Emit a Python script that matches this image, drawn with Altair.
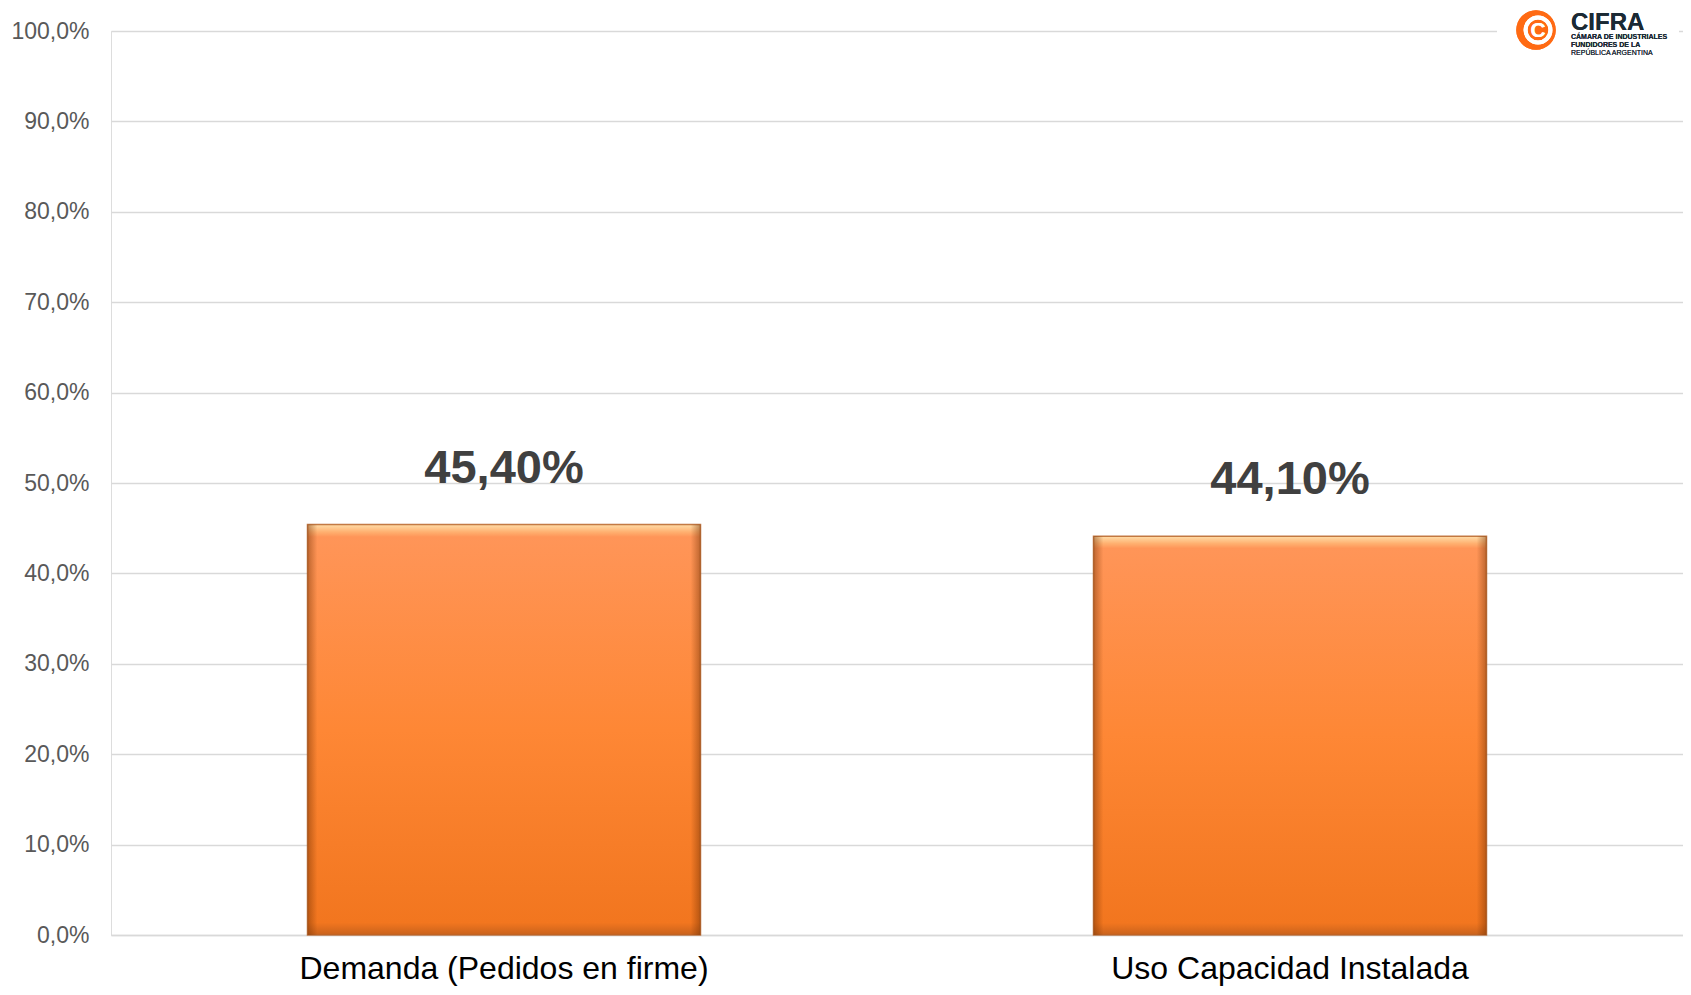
import altair as alt
import pandas as pd

categories = ["Demanda (Pedidos en firme)", "Uso Capacidad Instalada"]
values = [0.454, 0.441]
value_labels = ["45,40%", "44,10%"]

df = pd.DataFrame({"cat": categories, "val": values, "lab": value_labels})

x_enc = alt.X("cat:N", sort=categories, title=None,
              scale=alt.Scale(paddingInner=0.5, paddingOuter=0.25),
              axis=alt.Axis(labelAngle=0, labelFont="Liberation Sans", labelFontSize=32,
                            labelColor="#000000", labelPadding=18, labelLimit=0, ticks=False,
                            domain=True, domainColor="#D9D9D9", domainWidth=1.5, grid=False))
y_enc = alt.Y("val:Q", title=None,
              scale=alt.Scale(domain=[0, 1], nice=False),
              axis=alt.Axis(values=[i / 10 for i in range(11)],
                            labelExpr="replace(format(datum.value, '.1%'), '.', ',')",
                            labelFont="Liberation Sans", labelFontSize=23, labelColor="#595959",
                            labelPadding=22, ticks=False, domain=False,
                            grid=True, gridColor="#D9D9D9", gridWidth=1.5))

grad = alt.Gradient(
    gradient="linear",
    stops=[
        alt.GradientStop(color="#FFDDA8", offset=0),
        alt.GradientStop(color="#FFB070", offset=0.018),
        alt.GradientStop(color="#FF9558", offset=0.03),
        alt.GradientStop(color="#FE8735", offset=0.5),
        alt.GradientStop(color="#F2761F", offset=0.97),
        alt.GradientStop(color="#C9621C", offset=1),
    ],
    x1=0, x2=0, y1=0, y2=1,
)
side_grad = alt.Gradient(
    gradient="linear",
    stops=[
        alt.GradientStop(color="rgba(110,45,0,0.45)", offset=0),
        alt.GradientStop(color="rgba(110,45,0,0)", offset=0.025),
        alt.GradientStop(color="rgba(110,45,0,0)", offset=0.975),
        alt.GradientStop(color="rgba(110,45,0,0.45)", offset=1),
    ],
    x1=0, x2=1, y1=0, y2=0,
)

bars = alt.Chart(df).mark_bar(color=grad, stroke="#B8652A", strokeWidth=1.5, strokeOpacity=0.85).encode(
    x=x_enc, y=y_enc
)
bar_sides = alt.Chart(df).mark_bar(color=side_grad).encode(
    x=alt.X("cat:N", sort=categories), y=alt.Y("val:Q")
)

labels = alt.Chart(df).mark_text(
    font="Liberation Sans", fontSize=47, fontWeight="bold", color="#404040",
    baseline="alphabetic", dy=-42
).encode(x=alt.X("cat:N", sort=categories), y=alt.Y("val:Q"), text="lab:N")

# Logo (decoration)
logo_bg = alt.Chart(df).mark_rect(color="white").encode(
    x=alt.value(1386), x2=alt.value(1568), y=alt.value(-8), y2=alt.value(8))
logo_circle = alt.Chart(df).mark_point(filled=True, shape="circle", size=1560,
                                       color="#FF6A13", opacity=1).encode(
    x=alt.value(1425), y=alt.value(-1))
logo_ring = alt.Chart(df).mark_point(filled=False, shape="circle", size=620,
                                     color="white", strokeWidth=4, opacity=1).encode(
    x=alt.value(1427), y=alt.value(-1))
logo_c = alt.Chart(df).mark_text(text="C", font="Liberation Sans", fontSize=21, fontWeight="bold",
                                 color="white", baseline="middle", align="center").encode(
    x=alt.value(1427), y=alt.value(0))
logo_t1 = alt.Chart(df).mark_text(text="CIFRA", font="Liberation Sans", fontSize=24,
                                  fontWeight="bold", color="#1B2A35", align="left",
                                  baseline="alphabetic").encode(x=alt.value(1460), y=alt.value(-1))
logo_t2 = alt.Chart(df).mark_text(text="CÁMARA DE INDUSTRIALES", font="Liberation Sans", fontSize=7,
                                  fontWeight="bold", color="#1B2A35", align="left",
                                  baseline="alphabetic").encode(x=alt.value(1460), y=alt.value(8))
logo_t3 = alt.Chart(df).mark_text(text="FUNDIDORES DE LA", font="Liberation Sans", fontSize=7,
                                  fontWeight="bold", color="#1B2A35", align="left",
                                  baseline="alphabetic").encode(x=alt.value(1460), y=alt.value(16))
logo_t4 = alt.Chart(df).mark_text(text="REPÚBLICA ARGENTINA", font="Liberation Sans", fontSize=7,
                                  color="#1B2A35", align="left",
                                  baseline="alphabetic").encode(x=alt.value(1460), y=alt.value(24))

chart = alt.layer(bars, bar_sides, labels, logo_bg, logo_circle, logo_ring, logo_c,
                  logo_t1, logo_t2, logo_t3, logo_t4).properties(
    width=1572, height=904,
    autosize=alt.AutoSizeParams(type="none"),
    padding={"left": 103, "top": 23, "right": 0, "bottom": 52},
).configure_view(stroke=None).configure(background="white")

chart.save("out.html", embed_options={"renderer": "svg", "actions": False})
